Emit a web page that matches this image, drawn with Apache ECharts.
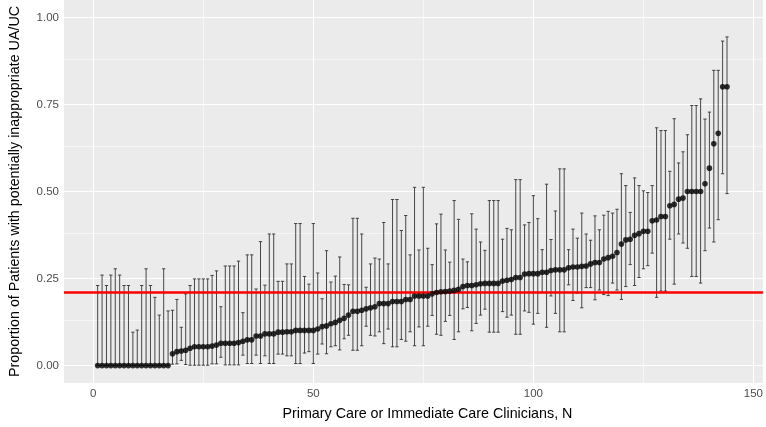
<!DOCTYPE html>
<html>
<head>
<meta charset="utf-8">
<script src="https://cdn.jsdelivr.net/npm/echarts@6/dist/echarts.min.js"></script>
<style>
html,body{margin:0;padding:0;background:#fff;}
#chart{width:766px;height:427px;}
</style>
</head>
<body>
<div id="chart"></div>
<script>
// Clinician rank (x)
const clinician = [
  1,2,3,4,5,6,7,8,9,10,11,12,13,14,15,16,17,18,19,20,
  21,22,23,24,25,26,27,28,29,30,31,32,33,34,35,36,37,38,39,40,
  41,42,43,44,45,46,47,48,49,50,51,52,53,54,55,56,57,58,59,60,
  61,62,63,64,65,66,67,68,69,70,71,72,73,74,75,76,77,78,79,80,
  81,82,83,84,85,86,87,88,89,90,91,92,93,94,95,96,97,98,99,100,
  101,102,103,104,105,106,107,108,109,110,111,112,113,114,115,116,117,118,119,120,
  121,122,123,124,125,126,127,128,129,130,131,132,133,134,135,136,137,138,139,140,
  141,142,143,144
];
// Proportion with potentially inappropriate UA/UC
const proportion = [
  0,0,0,0,0,0,0,0,0,0,0,0,0,0,0,0,0,0.034,0.040,0.042,
  0.044,0.050,0.054,0.054,0.054,0.054,0.056,0.059,0.064,0.064,0.064,0.064,0.066,0.070,0.074,0.074,0.085,0.085,0.091,0.091,
  0.091,0.096,0.096,0.097,0.097,0.101,0.101,0.101,0.101,0.101,0.105,0.112,0.114,0.120,0.124,0.130,0.136,0.145,0.156,0.156,
  0.159,0.163,0.166,0.169,0.178,0.178,0.178,0.184,0.184,0.184,0.190,0.190,0.200,0.200,0.200,0.200,0.206,0.210,0.212,0.213,
  0.214,0.216,0.219,0.227,0.230,0.230,0.232,0.235,0.236,0.236,0.236,0.236,0.243,0.245,0.247,0.253,0.253,0.263,0.264,0.264,
  0.264,0.268,0.268,0.273,0.275,0.275,0.275,0.281,0.283,0.283,0.285,0.286,0.292,0.296,0.296,0.306,0.310,0.314,0.325,0.349,
  0.361,0.363,0.374,0.379,0.386,0.386,0.416,0.418,0.428,0.428,0.459,0.463,0.478,0.481,0.500,0.500,0.500,0.500,0.522,0.567,
  0.637,0.667,0.801,0.801
];
// Lower confidence limits
const lowerCI = [
  0,0,0,0,0,0,0,0,0,0,0,0,0,0,0,0,0,0.004,0.005,0.015,
  0.003,0.001,0.001,0.001,0.001,0.001,0.005,0.005,0.024,0.002,0.002,0.002,0.002,0.030,0.006,0.006,0.030,0.006,0.028,0.006,
  0.006,0.033,0.033,0.028,0.028,0.006,0.006,0.036,0.040,0.006,0.033,0.062,0.034,0.054,0.057,0.045,0.077,0.087,0.044,0.044,
  0.057,0.113,0.087,0.085,0.097,0.063,0.105,0.054,0.054,0.075,0.070,0.097,0.057,0.111,0.057,0.113,0.144,0.090,0.087,0.127,
  0.144,0.075,0.097,0.163,0.167,0.100,0.121,0.145,0.162,0.096,0.096,0.096,0.155,0.139,0.145,0.090,0.090,0.157,0.153,0.119,
  0.150,0.210,0.110,0.200,0.150,0.097,0.097,0.232,0.187,0.208,0.166,0.224,0.224,0.189,0.217,0.204,0.201,0.237,0.217,0.190,
  0.227,0.290,0.230,0.253,0.278,0.287,0.323,0.196,0.214,0.214,0.363,0.234,0.378,0.352,0.337,0.256,0.256,0.237,0.330,0.395,
  0.355,0.419,0.551,0.494
];
// Upper confidence limits
const upperCI = [
  0.230,0.260,0.230,0.260,0.278,0.260,0.230,0.230,0.096,0.102,0.230,0.278,0.230,0.196,0.145,0.278,0.157,0.159,0.190,0.110,
  0.206,0.230,0.249,0.249,0.249,0.249,0.259,0.272,0.169,0.286,0.286,0.286,0.300,0.152,0.318,0.318,0.220,0.356,0.231,0.378,
  0.378,0.242,0.242,0.292,0.292,0.408,0.408,0.256,0.234,0.408,0.266,0.192,0.330,0.240,0.257,0.312,0.233,0.232,0.423,0.423,
  0.378,0.225,0.292,0.309,0.306,0.411,0.292,0.477,0.477,0.388,0.431,0.318,0.512,0.332,0.512,0.337,0.290,0.407,0.435,0.332,
  0.297,0.474,0.420,0.306,0.298,0.436,0.392,0.355,0.331,0.474,0.474,0.474,0.363,0.394,0.390,0.534,0.534,0.404,0.411,0.488,
  0.422,0.333,0.521,0.362,0.444,0.565,0.565,0.333,0.392,0.366,0.438,0.378,0.360,0.430,0.390,0.432,0.443,0.438,0.449,0.551,
  0.517,0.440,0.539,0.517,0.502,0.497,0.517,0.683,0.675,0.675,0.558,0.709,0.582,0.614,0.663,0.747,0.747,0.766,0.708,0.728,
  0.848,0.848,0.932,0.944
];
// Reference line (overall proportion)
const overallRate = [0.208];
// Tick labels / grid positions
const yMajorTicks = [0, 0.25, 0.5, 0.75, 1.0];
const yMinorTicks = [0.125, 0.375, 0.625, 0.875];
const xMajorTicks = [0, 50, 100, 150];
const xMinorTicks = [25, 75, 125];

const yTitle = 'Proportion of Patients with potentially inappropriate UA/UC';
const xTitle = 'Primary Care or Immediate Care Clinicians, N';

const pointData = clinician.map((c, i) => [c, proportion[i]]);
const barData = clinician.map((c, i) => [c, lowerCI[i], upperCI[i]]);

const FONT = '"Liberation Sans", Arial, sans-serif';
const XMIN = -6.65, XMAX = 152.15, YMIN = -0.05, YMAX = 1.05;

const majorGrid = {color: '#FFFFFF', width: 1.1, type: 'solid'};
const minorGrid = {color: '#FFFFFF', width: 0.55, type: 'solid'};
const gridLines = []
  .concat(yMajorTicks.map(v => ({yAxis: v, lineStyle: majorGrid})))
  .concat(yMinorTicks.map(v => ({yAxis: v, lineStyle: minorGrid})))
  .concat(xMajorTicks.map(v => ({xAxis: v, lineStyle: majorGrid})))
  .concat(xMinorTicks.map(v => ({xAxis: v, lineStyle: minorGrid})));

const chart = echarts.init(document.getElementById('chart'), null, {renderer: 'canvas'});
chart.setOption({
  animation: false,
  backgroundColor: '#ffffff',
  grid: {
    left: 63, right: 0, top: 0, bottom: 44,
    show: true, backgroundColor: '#EBEBEB', borderWidth: 0
  },
  xAxis: {
    type: 'value', min: XMIN, max: XMAX,
    axisLine: {show: false},
    axisTick: {show: true, length: 3, lineStyle: {color: '#333333', width: 1}, customValues: xMajorTicks},
    axisLabel: {show: true, customValues: xMajorTicks, margin: 5, color: '#4D4D4D', fontSize: 11.5, fontFamily: FONT,
      formatter: v => String(v)},
    splitLine: {show: false},
    name: xTitle, nameLocation: 'middle', nameGap: 24,
    nameTextStyle: {color: '#000000', fontSize: 14.3, fontFamily: FONT, padding: [0, 0, 0, 28]}
  },
  yAxis: {
    type: 'value', min: YMIN, max: YMAX,
    axisLine: {show: false},
    axisTick: {show: true, length: 3, lineStyle: {color: '#333333', width: 1}, customValues: yMajorTicks},
    axisLabel: {show: true, customValues: yMajorTicks, margin: 5, color: '#4D4D4D', fontSize: 11.5, fontFamily: FONT,
      formatter: v => v.toFixed(2)},
    splitLine: {show: false},
    name: yTitle, nameLocation: 'middle', nameRotate: 90, nameGap: 42,
    nameTextStyle: {color: '#000000', fontSize: 14.3, fontFamily: FONT}
  },
  series: [
    {
      type: 'line',
      data: [],
      z: 1,
      silent: true,
      markLine: {
        z: 1, zlevel: 0,
        silent: true, symbol: 'none', label: {show: false}, animation: false,
        data: gridLines
      }
    },
    {
      type: 'custom',
      z: 6,
      data: barData,
      encode: {x: 0, y: [1, 2]},
      renderItem: function (params, api) {
        const x = api.value(0);
        const lo = api.coord([x, api.value(1)]);
        const hi = api.coord([x, api.value(2)]);
        const hw = api.size([0.75, 0])[0] / 2;
        const style = {stroke: '#333333', lineWidth: 0.9};
        return {
          type: 'group',
          children: [
            {type: 'line', shape: {x1: lo[0], y1: lo[1], x2: hi[0], y2: hi[1]}, style: style},
            {type: 'line', shape: {x1: hi[0] - hw, y1: hi[1], x2: hi[0] + hw, y2: hi[1]}, style: style},
            {type: 'line', shape: {x1: lo[0] - hw, y1: lo[1], x2: lo[0] + hw, y2: lo[1]}, style: style}
          ]
        };
      }
    },
    {
      type: 'line',
      data: [],
      z: 7,
      markLine: {
        z: 7,
        silent: true, symbol: 'none', label: {show: false},
        lineStyle: {color: '#FF0000', width: 2.6, type: 'solid'},
        data: [{yAxis: overallRate[0]}]
      }
    },
    {
      type: 'scatter',
      z: 8,
      data: pointData,
      symbol: 'circle', symbolSize: 5.6,
      itemStyle: {color: '#000000'}
    }
  ]
});
</script>
</body>
</html>
